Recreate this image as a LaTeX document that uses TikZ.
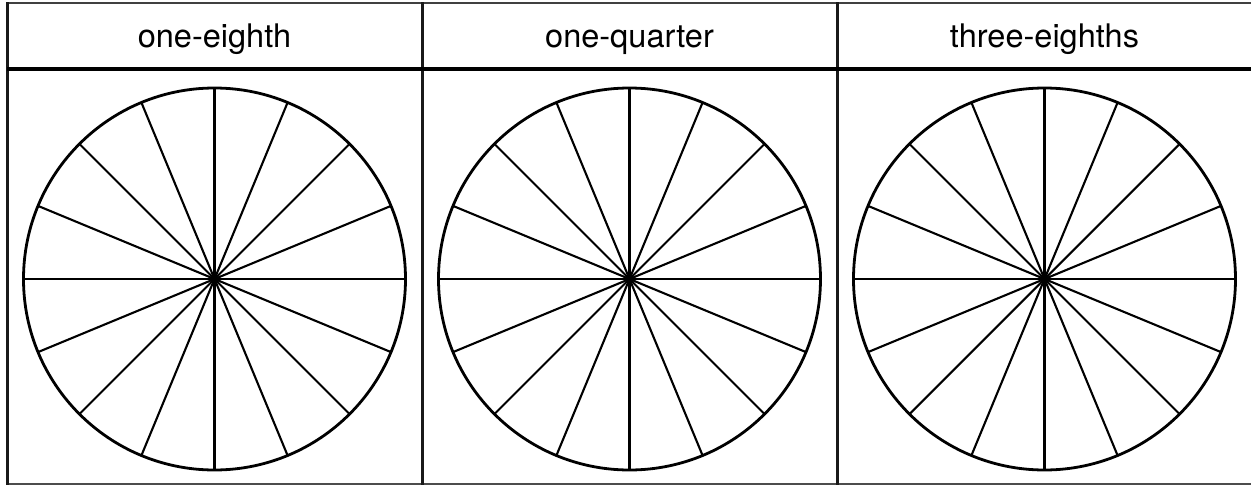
\documentclass[tikz,border=0pt]{standalone}
\usepackage{fontspec}
\setmainfont{TeX Gyre Heros}
\usetikzlibrary{calc}
\begin{document}
\begin{tikzpicture}[x=1pt,y=-1pt,
  grid/.style={line width=3pt,black!90},
  wheel/.style={line width=2.8pt},
  spoke/.style={line width=2.1pt},
  head/.style={font=\fontsize{32.5}{36}\selectfont,anchor=base,inner sep=0pt}]
\useasboundingbox (0,0) rectangle (1251,485);
\fill[white] (0,0) rectangle (1251,485);
% table
\draw[line width=2.5pt,black!75] (7,3) -- (1253,3);
\draw[line width=1.5pt,black!70] (7,484) -- (1253,484);
\draw[grid] (7,2) -- (7,485);
\draw[grid] (422,2) -- (422,485);
\draw[grid] (837,2) -- (837,485);
\draw[line width=3.5pt] (7,69) -- (1253,69);
% headers
\node[head] (h1) at (214.5,47.5) {one-eighth};
\node[head] (h2) at (629.5,47.5) {one-quarter};
\node[head] (h3) at (1044.5,47.5) {three-eighths};
% wheels
\foreach \cx/\n in {214.5/a,629.5/b,1044.5/c}{
  \coordinate (c\n) at (\cx,279);
  \foreach \k in {0,...,7}{
    \draw[spoke] ($(c\n)+(\k*22.5:191pt)$) -- ($(c\n)+(\k*22.5+180:191pt)$);
  }
  \draw[wheel] (c\n) circle[radius=191pt];
}
\end{tikzpicture}
\end{document}
